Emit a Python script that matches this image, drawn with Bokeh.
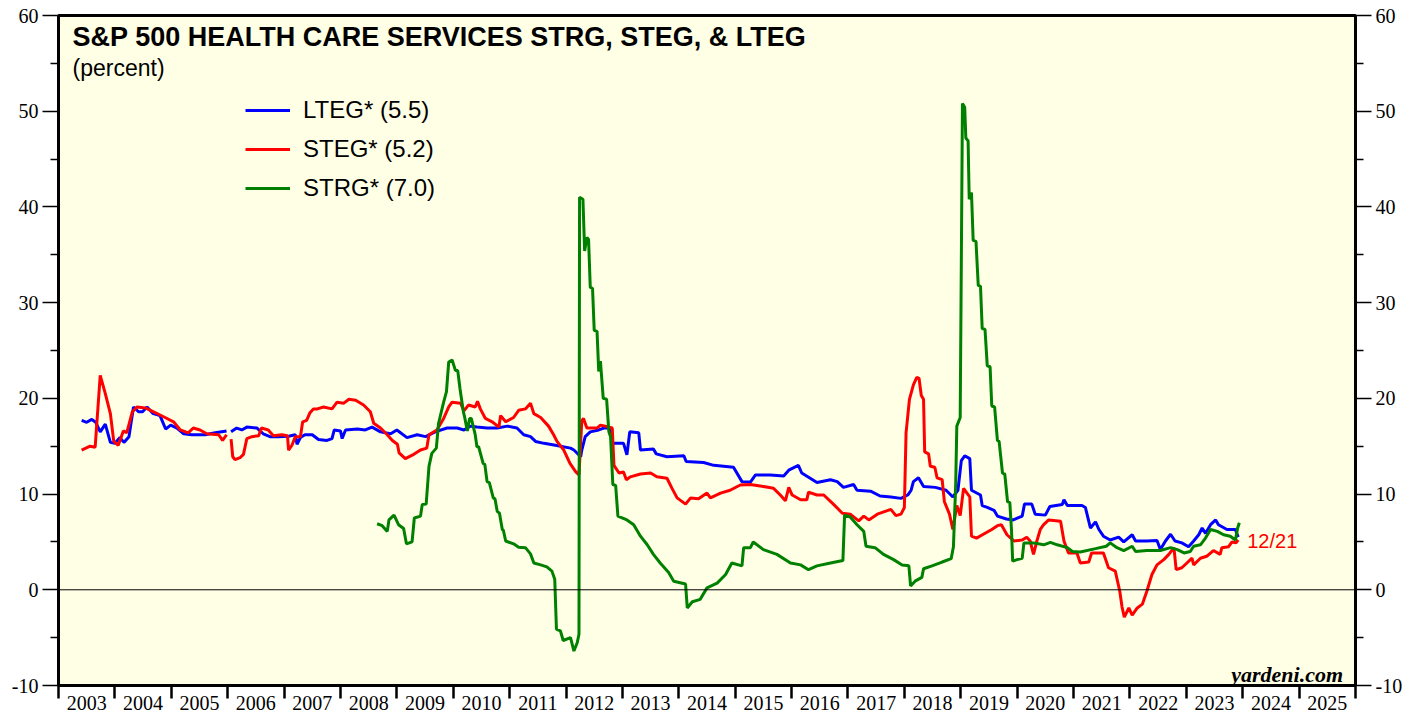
from bokeh.plotting import figure
from bokeh.models import (Range1d, FixedTicker, LinearAxis, Span, Label, Legend,
                          LegendItem, CustomJSTickFormatter)
from bokeh.embed import file_html
from bokeh.resources import INLINE

nan = float("nan")

year_ticks = list(range(2003, 2027))
year_label_pos = [y + 0.5 for y in range(2003, 2026)]
y_major = [-10, 0, 10, 20, 30, 40, 50, 60]
y_minor = [-5, 5, 15, 25, 35, 45, 55]

lteg_dates = [2003.41, 2003.50, 2003.59, 2003.66, 2003.74, 2003.83, 2003.92, 2004.00, 2004.09, 2004.16,
              2004.25, 2004.33, 2004.42, 2004.49, 2004.57, 2004.68, 2004.80, 2004.90, 2004.99, 2005.10,
              2005.22, 2005.36, 2005.60, 2005.78, 2005.98, 2006.02, 2006.06, 2006.16, 2006.25, 2006.34,
              2006.52, 2006.63, 2006.75, 2006.90, 2007.08, 2007.20, 2007.23, 2007.29, 2007.37, 2007.50,
              2007.61, 2007.76, 2007.85, 2007.89, 2008.00, 2008.03, 2008.09, 2008.30, 2008.44, 2008.56,
              2008.71, 2008.89, 2009.00, 2009.18, 2009.36, 2009.51, 2009.68, 2009.89, 2010.07, 2010.19,
              2010.30, 2010.42, 2010.60, 2010.78, 2010.96, 2011.13, 2011.25, 2011.37, 2011.46, 2011.61,
              2011.81, 2012.08, 2012.14, 2012.26, 2012.28, 2012.34, 2012.43, 2012.58, 2012.67, 2012.79,
              2012.82, 2013.02, 2013.08, 2013.13, 2013.29, 2013.32, 2013.55, 2013.60, 2013.79, 2014.09,
              2014.13, 2014.44, 2014.62, 2014.97, 2015.12, 2015.27, 2015.36, 2015.62, 2015.86, 2015.95,
              2016.12, 2016.18, 2016.33, 2016.45, 2016.69, 2016.81, 2016.92, 2017.10, 2017.16, 2017.40,
              2017.57, 2017.76, 2017.94, 2018.06, 2018.12, 2018.16, 2018.25, 2018.34, 2018.55, 2018.74,
              2018.86, 2018.95, 2019.01, 2019.07, 2019.16, 2019.19, 2019.35, 2019.38, 2019.47, 2019.59,
              2019.65, 2019.81, 2019.93, 2020.09, 2020.13, 2020.26, 2020.32, 2020.50, 2020.58, 2020.80,
              2020.83, 2020.89, 2021.15, 2021.21, 2021.30, 2021.39, 2021.45, 2021.53, 2021.65, 2021.80,
              2021.89, 2022.04, 2022.10, 2022.30, 2022.48, 2022.54, 2022.63, 2022.72, 2022.80, 2022.92,
              2023.04, 2023.13, 2023.22, 2023.28, 2023.34, 2023.43, 2023.52, 2023.57, 2023.72, 2023.87,
              2023.92]
lteg_vals = [17.7, 17.5, 17.8, 17.5, 16.5, 17.3, 15.4, 15.3, 15.9, 15.4,
             16.0, 19.1, 18.6, 18.6, 19.1, 18.4, 18.2, 16.8, 17.2, 16.9,
             16.3, 16.2, 16.2, 16.4, 16.6, nan, 16.5, 16.9, 16.7, 17.0,
             16.9, 16.3, 16.0, 16.0, 16.05, 16.2, 15.2, 15.9, 16.2, 16.2,
             15.7, 15.6, 15.8, 16.7, 16.6, 15.8, 16.7, 16.8, 16.7, 17.0,
             16.5, 16.3, 16.7, 15.9, 16.2, 16.0, 16.5, 16.9, 16.9, 16.7,
             17.1, 17.0, 16.9, 16.9, 17.1, 16.9, 16.2, 16.0, 15.5, 15.3,
             15.1, 14.8, 14.6, 13.9, 14.6, 16.0, 16.5, 16.7, 16.9, 16.9,
             15.3, 15.3, 14.1, 16.5, 16.4, 14.6, 14.7, 14.2, 13.9, 14.0,
             13.4, 13.3, 13.0, 12.8, 11.3, 11.25, 12.0, 12.0, 11.9, 12.5,
             13.0, 12.2, 11.65, 11.2, 11.5, 11.3, 10.7, 11.0, 10.4, 10.3,
             9.8, 9.7, 9.55, 9.9, 10.4, 11.3, 11.7, 10.8, 10.7, 10.4,
             9.7, 10.4, 13.5, 14.0, 13.7, 10.4, 9.9, 8.8, 8.6, 8.3,
             7.7, 7.4, 7.3, 7.7, 8.95, 8.95, 7.9, 7.8, 8.7, 8.9,
             9.4, 8.8, 8.8, 8.6, 6.45, 7.1, 6.3, 5.6, 5.2, 5.5,
             5.0, 5.75, 5.1, 5.1, 5.15, 4.2, 5.1, 5.8, 5.1, 4.9,
             4.5, 5.1, 5.75, 6.45, 5.9, 6.8, 7.3, 6.8, 6.3, 6.3,
             5.5]

steg_dates = [2003.41, 2003.56, 2003.65, 2003.74, 2003.83, 2003.92, 2003.98, 2004.06, 2004.15, 2004.21,
              2004.31, 2004.39, 2004.54, 2004.65, 2004.89, 2005.04, 2005.16, 2005.30, 2005.39, 2005.51,
              2005.63, 2005.84, 2005.91, 2005.98, 2006.02, 2006.06, 2006.09, 2006.13, 2006.22, 2006.28,
              2006.34, 2006.43, 2006.55, 2006.60, 2006.72, 2006.81, 2006.96, 2007.06, 2007.08, 2007.14,
              2007.20, 2007.29, 2007.33, 2007.40, 2007.46, 2007.52, 2007.59, 2007.70, 2007.85, 2007.94,
              2008.06, 2008.15, 2008.27, 2008.41, 2008.53, 2008.59, 2008.71, 2008.83, 2008.92, 2009.01,
              2009.04, 2009.15, 2009.30, 2009.42, 2009.53, 2009.57, 2009.71, 2009.83, 2009.92, 2009.98,
              2010.13, 2010.19, 2010.27, 2010.39, 2010.43, 2010.48, 2010.57, 2010.69, 2010.81, 2010.84,
              2010.93, 2011.07, 2011.16, 2011.28, 2011.37, 2011.43, 2011.55, 2011.69, 2011.78, 2011.84,
              2011.96, 2012.07, 2012.17, 2012.23, 2012.28, 2012.31, 2012.37, 2012.55, 2012.61, 2012.76,
              2012.82, 2012.85, 2012.94, 2013.02, 2013.07, 2013.14, 2013.32, 2013.50, 2013.61, 2013.79,
              2013.88, 2013.97, 2014.12, 2014.21, 2014.35, 2014.50, 2014.56, 2014.74, 2014.91, 2015.09,
              2015.27, 2015.50, 2015.68, 2015.80, 2015.89, 2015.95, 2016.01, 2016.16, 2016.27, 2016.30,
              2016.45, 2016.57, 2016.75, 2016.90, 2017.04, 2017.19, 2017.28, 2017.37, 2017.52, 2017.66,
              2017.76, 2017.85, 2017.94, 2018.00, 2018.03, 2018.09, 2018.16, 2018.22, 2018.26, 2018.30,
              2018.34, 2018.36, 2018.43, 2018.46, 2018.54, 2018.58, 2018.67, 2018.71, 2018.80, 2018.86,
              2018.93, 2018.99, 2019.05, 2019.11, 2019.16, 2019.19, 2019.28, 2019.40, 2019.55, 2019.65,
              2019.72, 2019.82, 2019.94, 2020.09, 2020.17, 2020.23, 2020.29, 2020.35, 2020.41, 2020.47,
              2020.56, 2020.77, 2020.83, 2020.91, 2021.06, 2021.12, 2021.27, 2021.32, 2021.53, 2021.62,
              2021.74, 2021.82, 2021.86, 2021.90, 2021.98, 2022.04, 2022.13, 2022.22, 2022.30, 2022.39,
              2022.48, 2022.60, 2022.69, 2022.78, 2022.82, 2022.92, 2023.01, 2023.10, 2023.13, 2023.25,
              2023.36, 2023.48, 2023.60, 2023.63, 2023.75, 2023.81, 2023.88, 2023.92]
steg_vals = [14.6, 15.0, 14.9, 22.4, 20.5, 18.4, 15.5, 15.1, 16.6, 16.4,
             18.6, 19.1, 19.0, 18.7, 18.0, 17.55, 16.7, 16.4, 16.9, 16.7,
             16.3, 16.2, 15.6, 16.2, nan, 15.75, 13.9, 13.6, 13.8, 14.15,
             15.8, 16.0, 16.1, 16.9, 16.7, 16.1, 16.2, 16.1, 14.6, 15.1,
             16.0, 16.0, 17.55, 17.7, 18.5, 18.9, 18.9, 19.1, 18.9, 19.6,
             19.5, 19.9, 19.8, 19.3, 18.6, 17.4, 16.9, 16.2, 15.6, 15.2,
             14.3, 13.7, 14.15, 14.6, 14.8, 16.2, 16.7, 17.9, 19.1, 19.6,
             19.5, 18.7, 19.3, 19.1, 19.7, 18.9, 17.9, 17.55, 17.0, 18.2,
             17.55, 18.0, 18.75, 18.9, 19.5, 18.4, 18.0, 17.1, 16.2, 15.5,
             14.6, 13.2, 12.35, 12.0, 17.7, 17.9, 16.9, 16.9, 17.2, 17.0,
             16.9, 13.0, 12.2, 12.3, 11.5, 11.8, 12.1, 12.2, 11.8, 11.65,
             10.6, 9.6, 8.95, 9.6, 9.5, 10.1, 9.6, 10.1, 10.4, 10.95,
             11.0, 10.8, 10.6, 9.9, 9.3, 10.7, 9.9, 9.4, 9.4, 10.2,
             9.9, 9.9, 8.9, 8.0, 7.9, 7.2, 7.7, 7.3, 7.9, 8.2,
             8.4, 7.75, 7.9, 8.6, 16.4, 19.9, 21.4, 22.2, 22.1, 20.3,
             19.9, 14.4, 14.2, 12.9, 12.8, 11.7, 11.5, 9.2, 7.9, 6.3,
             8.8, 7.75, 10.6, 10.1, 9.7, 5.6, 5.4, 5.8, 6.3, 6.7,
             6.8, 5.75, 5.1, 5.2, 5.5, 5.1, 3.7, 5.1, 6.3, 6.8,
             7.3, 7.15, 5.1, 3.85, 3.85, 2.8, 2.9, 3.85, 3.85, 2.3,
             1.95, -0.15, -1.8, -2.85, -1.9, -2.65, -1.9, -1.5, -0.15, 1.6,
             2.6, 3.15, 3.7, 4.4, 2.1, 2.3, 2.8, 3.3, 2.6, 3.3,
             3.5, 4.1, 3.7, 4.4, 4.5, 5.0, 4.9, 5.2]

strg_dates = [2008.65, 2008.74, 2008.83, 2008.86, 2008.95, 2009.03, 2009.12, 2009.17, 2009.27, 2009.31,
              2009.42, 2009.45, 2009.52, 2009.57, 2009.62, 2009.70, 2009.74, 2009.83, 2009.88, 2009.92,
              2009.98, 2010.04, 2010.08, 2010.12, 2010.18, 2010.20, 2010.25, 2010.29, 2010.32, 2010.39,
              2010.42, 2010.45, 2010.53, 2010.56, 2010.60, 2010.64, 2010.71, 2010.74, 2010.78, 2010.82,
              2010.87, 2010.89, 2010.93, 2011.07, 2011.16, 2011.28, 2011.37, 2011.43, 2011.55, 2011.66,
              2011.75, 2011.80, 2011.83, 2011.90, 2011.95, 2012.08, 2012.14, 2012.20, 2012.23, 2012.24,
              2012.30, 2012.33, 2012.37, 2012.40, 2012.43, 2012.47, 2012.50, 2012.55, 2012.58, 2012.61,
              2012.66, 2012.72, 2012.76, 2012.79, 2012.83, 2012.88, 2012.92, 2013.08, 2013.20, 2013.32,
              2013.44, 2013.55, 2013.67, 2013.82, 2013.91, 2014.12, 2014.15, 2014.24, 2014.38, 2014.50,
              2014.68, 2014.83, 2014.94, 2015.12, 2015.15, 2015.27, 2015.32, 2015.50, 2015.74, 2015.98,
              2016.16, 2016.30, 2016.45, 2016.69, 2016.91, 2016.94, 2017.04, 2017.16, 2017.28, 2017.32,
              2017.48, 2017.63, 2017.81, 2017.96, 2018.08, 2018.11, 2018.19, 2018.31, 2018.34, 2018.49,
              2018.67, 2018.83, 2018.87, 2018.91, 2018.93, 2018.99, 2019.01, 2019.03, 2019.07, 2019.09,
              2019.13, 2019.15, 2019.19, 2019.22, 2019.27, 2019.31, 2019.35, 2019.38, 2019.43, 2019.47,
              2019.52, 2019.55, 2019.60, 2019.65, 2019.68, 2019.74, 2019.78, 2019.83, 2019.87, 2019.90,
              2019.92, 2020.00, 2020.09, 2020.12, 2020.29, 2020.47, 2020.59, 2020.71, 2020.89, 2020.98,
              2021.12, 2021.39, 2021.58, 2021.65, 2021.77, 2021.89, 2022.04, 2022.10, 2022.30, 2022.54,
              2022.72, 2022.84, 2022.96, 2023.07, 2023.13, 2023.25, 2023.34, 2023.43, 2023.55, 2023.66,
              2023.78, 2023.87, 2023.91, 2023.94]
strg_vals = [6.9, 6.7, 6.1, 7.3, 7.8, 6.8, 6.4, 4.8, 5.0, 7.5,
             7.7, 8.9, 8.95, 12.9, 14.25, 14.8, 17.4, 19.6, 20.7, 23.8,
             24.0, 22.9, 22.9, 21.0, 18.6, 18.1, 16.6, 17.9, 17.9, 16.2,
             14.95, 14.95, 13.2, 13.1, 11.3, 11.2, 9.6, 9.5, 8.2, 8.0,
             6.3, 6.2, 5.1, 4.8, 4.45, 4.4, 3.75, 2.8, 2.6, 2.4,
             1.95, 1.1, -4.1, -4.3, -5.3, -5.0, -6.4, -5.5, -4.65, 41.0,
             40.8, 35.4, 36.8, 36.6, 31.6, 31.5, 27.1, 27.0, 22.8, 23.9,
             20.0, 19.9, 16.5, 16.0, 11.0, 10.9, 7.7, 7.3, 6.8, 5.6,
             4.7, 3.7, 2.8, 1.8, 0.9, 0.6, -1.9, -1.25, -1.0, 0.2,
             0.7, 1.6, 2.8, 2.5, 4.4, 4.4, 5.0, 4.2, 3.7, 2.8,
             2.6, 2.1, 2.5, 2.8, 3.05, 7.8, 7.6, 6.8, 6.1, 4.55,
             4.4, 3.7, 3.15, 2.6, 2.5, 0.4, 0.9, 1.3, 2.2, 2.5,
             2.9, 3.25, 4.5, 10.95, 17.1, 18.0, 34.3, 50.8, 50.4, 47.2,
             46.9, 40.8, 41.5, 36.5, 36.4, 31.8, 31.7, 27.3, 27.2, 23.4,
             23.3, 19.2, 19.1, 15.6, 15.5, 12.2, 12.1, 9.2, 9.1, 6.2,
             3.0, 3.15, 3.3, 4.9, 4.9, 4.7, 4.95, 4.7, 4.4, 4.0,
             3.95, 4.3, 4.55, 4.9, 4.4, 4.1, 4.55, 4.0, 4.1, 4.1,
             4.4, 4.2, 3.85, 4.0, 4.55, 4.7, 5.4, 6.3, 6.1, 5.75,
             5.6, 5.2, 6.45, 7.0]

series_labels = ["LTEG* (5.5)", "STEG* (5.2)", "STRG* (7.0)"]
series_colors = ["#0000FF", "#FF0000", "#008000"]

SERIF = "Liberation Serif"
SANS = "Liberation Sans"

FRAME_H = 670

p = figure(frame_width=1297, frame_height=FRAME_H,
           x_range=Range1d(2003, 2026), y_range=Range1d(-10, 60),
           output_backend="svg", toolbar_location=None,
           min_border_left=58, min_border_right=50, min_border_top=15, min_border_bottom=0,
           background_fill_color="#FFFFE6", border_fill_color="white",
           outline_line_color="black", outline_line_width=3,
           x_axis_location=None, y_axis_location=None)
p.xgrid.visible = False
p.ygrid.visible = False

def style_y(ax):
    ax.ticker = FixedTicker(ticks=y_major, minor_ticks=y_minor)
    ax.formatter = CustomJSTickFormatter(code="return String(tick);")
    ax.axis_line_color = None
    ax.major_tick_out = 16
    ax.major_tick_in = 0
    ax.minor_tick_out = 8
    ax.minor_tick_in = 0
    ax.major_tick_line_width = 1.5
    ax.minor_tick_line_width = 1.5
    ax.major_tick_line_color = "black"
    ax.minor_tick_line_color = "black"
    ax.major_label_text_font = SERIF
    ax.major_label_text_font_size = "20px"
    ax.major_label_text_color = "black"
    ax.major_label_standoff = 4

yl = LinearAxis()
style_y(yl)
p.add_layout(yl, "left")
yr = LinearAxis()
style_y(yr)
p.add_layout(yr, "right")

xa = LinearAxis(ticker=FixedTicker(ticks=year_label_pos, minor_ticks=year_ticks),
                formatter=CustomJSTickFormatter(code="return String(Math.floor(tick));"))
xa.axis_line_color = None
xa.major_tick_out = 0
xa.major_tick_in = 0
xa.major_tick_line_color = None
xa.minor_tick_out = 13
xa.minor_tick_in = 0
xa.minor_tick_line_width = 2.5
xa.minor_tick_line_color = "black"
xa.major_label_text_font = SERIF
xa.major_label_text_font_size = "20px"
xa.major_label_text_color = "black"
xa.major_label_standoff = -3
p.add_layout(xa, "below")

p.add_layout(Span(location=0, dimension="width", line_color="black", line_width=1))

r1 = p.line(lteg_dates, lteg_vals, line_color=series_colors[0], line_width=3)
r2 = p.line(steg_dates, steg_vals, line_color=series_colors[1], line_width=3)
r3 = p.line(strg_dates, strg_vals, line_color=series_colors[2], line_width=3)

legend = Legend(items=[LegendItem(label=series_labels[0], renderers=[r1]),
                       LegendItem(label=series_labels[1], renderers=[r2]),
                       LegendItem(label=series_labels[2], renderers=[r3])],
                location=(187, FRAME_H - 187), orientation="vertical",
                label_text_font=SANS, label_text_font_size="24px", label_text_color="black",
                glyph_width=45, glyph_height=24, label_height=24, label_standoff=13,
                spacing=11, padding=0, margin=0,
                border_line_color=None, background_fill_alpha=0)
p.add_layout(legend)

p.add_layout(Label(x=2003.25, y=59.35, text="S&P 500 HEALTH CARE SERVICES STRG, STEG, & LTEG",
                   text_font=SANS, text_font_style="bold", text_font_size="27px",
                   text_color="black", text_baseline="top", text_align="left"))
p.add_layout(Label(x=2003.25, y=55.9, text="(percent)",
                   text_font=SANS, text_font_size="23px",
                   text_color="black", text_baseline="top", text_align="left"))
p.add_layout(Label(x=2024.08, y=5.1, text="12/21",
                   text_font=SANS, text_font_size="20px",
                   text_color="#FF0000", text_baseline="middle", text_align="left"))
p.add_layout(Label(x=2025.78, y=-8.8, text="yardeni.com",
                   text_font=SERIF, text_font_style="bold italic", text_font_size="22px",
                   text_color="black", text_baseline="alphabetic", text_align="right"))

open("out.html", "w").write(file_html(p, INLINE))
